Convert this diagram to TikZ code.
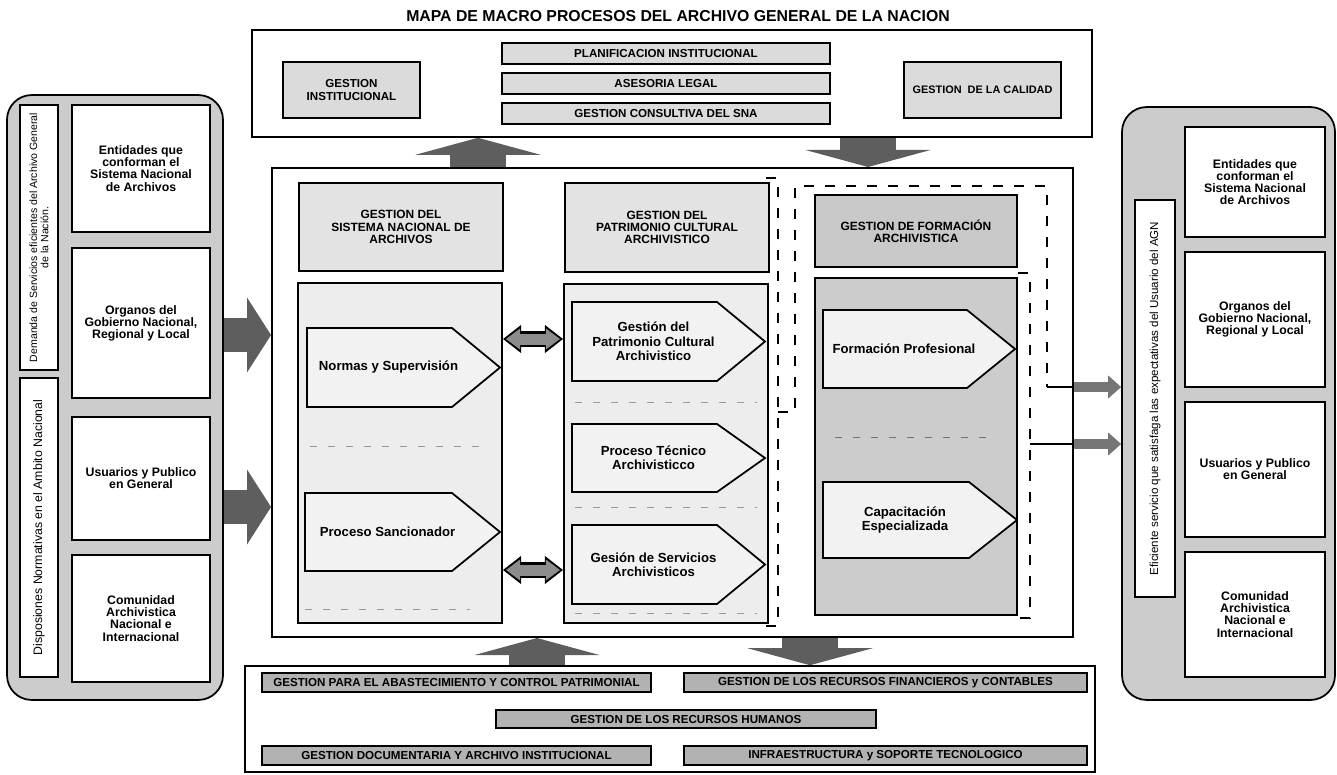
\documentclass[tikz,border=0pt]{standalone}
\usepackage{fontspec}
\setmainfont{Liberation Sans}
\usetikzlibrary{arrows.meta}

\definecolor{arrgray}{HTML}{5E5E5E}

% pentagon process box: name, x1, y1, x2, y2, text
\newcommand{\procnode}[6]{%
  \draw[procshape] (#2,#3) -- ({#4-48},#3) -- (#4,{(#3+#5)/2}) -- ({#4-48},#5) -- (#2,#5) -- cycle;
  \node (#1) [proctext] at ({(#2+#4)/2-15},{(#3+#5)/2}) {#6};}

\begin{document}
\begin{tikzpicture}[x=0.02cm, y=-0.02cm,
    box/.style={draw, line width=0.9pt, inner sep=0pt, align=center},
    topitem/.style={box, fill=gray!28, font=\bfseries\fontsize{6.6}{7}\selectfont},
    botitem/.style={box, fill=gray!60, font=\bfseries\fontsize{6.6}{7}\selectfont},
    panel/.style={draw, line width=1pt, rounded corners=14pt, fill=gray!40, inner sep=0pt},
    entity/.style={box, fill=white, font=\bfseries\fontsize{7}{6.9}\selectfont},
    strip/.style={draw, line width=0.9pt, fill=white, rotate=90, inner sep=0pt, align=center},
    header/.style={box, line width=1.2pt, fill=gray!22, font=\bfseries\fontsize{6.8}{7}\selectfont},
    column/.style={box, line width=1.2pt, fill=gray!14},
    procshape/.style={draw, line width=1pt, fill=gray!10},
    proctext/.style={align=center, font=\bfseries\fontsize{7.5}{8.2}\selectfont},
    sep/.style={draw=gray!80, line width=0.5pt, dash pattern=on 1.4mm off 2.2mm},
    heavydash/.style={line width=1.4pt, dash pattern=on 2mm off 2.2mm},
    link/.style={line width=0.8pt},
    sidearrow/.style={draw=arrgray, line width=0.68cm, -{Triangle[length=0.48cm, width=1.5cm, line width=0pt]}},
    vertarrow/.style={draw=arrgray, line width=1.12cm, -{Triangle[length=0.34cm, width=2.5cm, line width=0pt]}},
    outarrow/.style={draw=arrgray!85, line width=0.2cm, -{Triangle[length=0.26cm, width=0.46cm, line width=0pt]}},
    dblarr/.style={draw=black!45, line width=0.22cm,
                   {Triangle[length=0.28cm, width=0.42cm, line width=0pt]}-{Triangle[length=0.28cm, width=0.42cm, line width=0pt]},
                   shorten <=0.06cm, shorten >=0.06cm,
                   preaction={draw=black, line width=0.32cm, shorten <=0cm, shorten >=0cm,
                   {Triangle[length=0.36cm, width=0.56cm, line width=0pt]}-{Triangle[length=0.36cm, width=0.56cm, line width=0pt]}}}]

\useasboundingbox (0,0) rectangle (1337,774);

\node (title) at (678,16) [font=\bfseries\fontsize{9}{10}\selectfont] {MAPA DE MACRO PROCESOS DEL ARCHIVO GENERAL DE LA NACION};

% strategic processes
\node (topbox) at (672,83.5) [box, fill=white, minimum width=16.8cm, minimum height=2.14cm] {};
\node (ginst) at (351.5,90) [topitem, minimum width=2.74cm, minimum height=1.12cm] {GESTION\\INSTITUCIONAL};
\node (planif) at (666,53.5) [topitem, minimum width=6.56cm, minimum height=0.42cm] {PLANIFICACION INSTITUCIONAL};
\node (asesor) at (666,83.5) [topitem, minimum width=6.56cm, minimum height=0.42cm] {ASESORIA LEGAL};
\node (consult) at (666,113.5) [topitem, minimum width=6.56cm, minimum height=0.42cm] {GESTION CONSULTIVA DEL SNA};
\node (calidad) at (982.5,90) [topitem, minimum width=3.14cm, minimum height=1.12cm, font=\bfseries\fontsize{6.2}{7}\selectfont] {GESTION \ DE LA CALIDAD};

% left panel
\node (lpanel) at (115,397.5) [panel, minimum width=4.32cm, minimum height=12.1cm] {};
\node (lstrip1) at (39,237.5) [strip, minimum width=5.3cm, minimum height=0.76cm, font=\fontsize{6}{6.4}\selectfont]
    {Demanda de Servicios eficientes del Archivo General\\de la Nación.};
\node (lstrip2) at (39,527.5) [strip, minimum width=5.98cm, minimum height=0.76cm, font=\fontsize{7}{7.5}\selectfont]
    {Disposiones Normativas en el Ambito Nacional};
\node (lent1) at (141,168.5) [entity, minimum width=2.76cm, minimum height=2.54cm] {Entidades que\\conforman el\\Sistema Nacional\\de Archivos};
\node (lent2) at (141,323) [entity, minimum width=2.76cm, minimum height=3cm] {Organos del\\Gobierno Nacional,\\Regional y Local};
\node (lent3) at (141,478.5) [entity, minimum width=2.76cm, minimum height=2.46cm] {Usuarios y Publico\\en General};
\node (lent4) at (141,618.5) [entity, minimum width=2.76cm, minimum height=2.54cm] {Comunidad\\Archivistica\\Nacional e\\Internacional};

% right panel
\node (rpanel) at (1228.5,403.5) [panel, minimum width=4.26cm, minimum height=11.86cm] {};
\node (rstrip) at (1155,398.5) [strip, minimum width=7.94cm, minimum height=0.8cm, font=\fontsize{6.6}{7}\selectfont]
    {Eficiente servicio que satisfaga las expectativas del Usuario del AGN};
\node (rent1) at (1255,182) [entity, minimum width=2.8cm, minimum height=2.2cm] {Entidades que\\conforman el\\Sistema Nacional\\de Archivos};
\node (rent2) at (1255,319.5) [entity, minimum width=2.8cm, minimum height=2.7cm] {Organos del\\Gobierno Nacional,\\Regional y Local};
\node (rent3) at (1255,469.5) [entity, minimum width=2.8cm, minimum height=2.7cm] {Usuarios y Publico\\en General};
\node (rent4) at (1255,614.5) [entity, minimum width=2.8cm, minimum height=2.5cm] {Comunidad\\Archivistica\\Nacional e\\Internacional};

% mission processes
\node (mainbox) at (672.5,402.5) [box, line width=1.2pt, fill=white, minimum width=16.02cm, minimum height=9.38cm] {};

\node (c1head) at (401,227) [header, minimum width=4.08cm, minimum height=1.76cm] {GESTION DEL\\SISTEMA NACIONAL DE\\ARCHIVOS};
\node (c1low) at (400,453) [column, minimum width=4.08cm, minimum height=6.8cm] {};
\procnode{normas}{307}{328}{500}{407}{Normas y Supervisión}
\draw[sep] (310,446) -- (480,446);
\procnode{sancion}{305}{493}{500}{571}{Proceso Sancionador}
\draw[sep] (305,609) -- (470,609);

\node (c2head) at (667,227.5) [header, minimum width=4.08cm, minimum height=1.78cm] {GESTION DEL\\PATRIMONIO CULTURAL\\ARCHIVISTICO};
\node (c2low) at (666,453.5) [column, minimum width=4.08cm, minimum height=6.78cm] {};
\procnode{patrim}{572}{302}{765}{381}{Gestión del\\Patrimonio Cultural\\Archivistico}
\draw[sep] (575,402) -- (757,402);
\procnode{tecnico}{572}{424}{765}{492}{Proceso Técnico\\Archivisticco}
\draw[sep] (575,507) -- (757,507);
\procnode{servic}{572}{525}{765}{604}{Gesión de Servicios\\Archivisticos}
\draw[sep] (575,613) -- (757,613);

\node (c3head) at (916,231) [header, fill=gray!42, minimum width=4.04cm, minimum height=1.44cm] {GESTION DE FORMACIÓN\\ARCHIVISTICA};
\node (c3low) at (916,446.5) [column, fill=gray!40, minimum width=4.04cm, minimum height=6.74cm] {};
\procnode{formac}{823}{310}{1015}{388}{Formación Profesional}
\draw[sep, draw=gray!110] (835,437) -- (990,437);
\procnode{capac}{823}{482}{1017}{558}{Capacitación\\Especializada}

% dashed groupings
\draw[heavydash] (766,178) -- (778,178) -- (778,626) -- (766,626);
\draw[heavydash] (778,412) -- (795,412) -- (795,186) -- (1047,186) -- (1047,387) coordinate (grpend1);
\draw[heavydash] (1018,273) -- (1030,273) -- (1030,618) -- (1018,618);
\coordinate (grpend2) at (1030,444);

% support processes
\node (botbox) at (670,719) [box, fill=white, minimum width=17cm, minimum height=2.12cm] {};
\node (abast) at (456.5,682.5) [botitem, minimum width=7.78cm, minimum height=0.38cm] {GESTION PARA EL ABASTECIMIENTO Y CONTROL PATRIMONIAL};
\node (finan) at (885.5,682.5) [botitem, minimum width=8.06cm, minimum height=0.38cm] {GESTION DE LOS RECURSOS FINANCIEROS y CONTABLES};
\node (rrhh) at (686,719) [botitem, minimum width=7.6cm, minimum height=0.36cm] {GESTION DE LOS RECURSOS HUMANOS};
\node (docum) at (456.5,755.5) [botitem, minimum width=7.78cm, minimum height=0.38cm] {GESTION DOCUMENTARIA Y ARCHIVO INSTITUCIONAL};
\node (infra) at (885.5,755.5) [botitem, minimum width=8.06cm, minimum height=0.38cm] {INFRAESTRUCTURA y SOPORTE TECNOLOGICO};

% arrows
\coordinate (la1) at (0,335);
\coordinate (la2) at (0,507);
\coordinate (ua) at (478,0);
\coordinate (da) at (868,0);
\coordinate (ub) at (537,0);
\coordinate (db) at (810,0);
\coordinate (dl1) at (0,339);
\coordinate (dl2) at (0,570);
\coordinate (ro1) at (0,387);
\coordinate (ro2) at (0,444);

\draw[sidearrow] (lpanel.east |- la1) -- (mainbox.west |- la1);
\draw[sidearrow] (lpanel.east |- la2) -- (mainbox.west |- la2);

\draw[vertarrow] (mainbox.north -| ua) -- (topbox.south -| ua);
\draw[vertarrow] (topbox.south -| da) -- (mainbox.north -| da);
\draw[vertarrow] (botbox.north -| ub) -- (mainbox.south -| ub);
\draw[vertarrow] (mainbox.south -| db) -- (botbox.north -| db);

\draw[dblarr] (c1low.east |- dl1) -- (c2low.west |- dl1);
\draw[dblarr] (c1low.east |- dl2) -- (c2low.west |- dl2);

\draw[link] (grpend1) -- (mainbox.east |- ro1);
\draw[link] (grpend2) -- (mainbox.east |- ro2);
\draw[outarrow] (mainbox.east |- ro1) -- (rpanel.west |- ro1);
\draw[outarrow] (mainbox.east |- ro2) -- (rpanel.west |- ro2);
\end{tikzpicture}
\end{document}
